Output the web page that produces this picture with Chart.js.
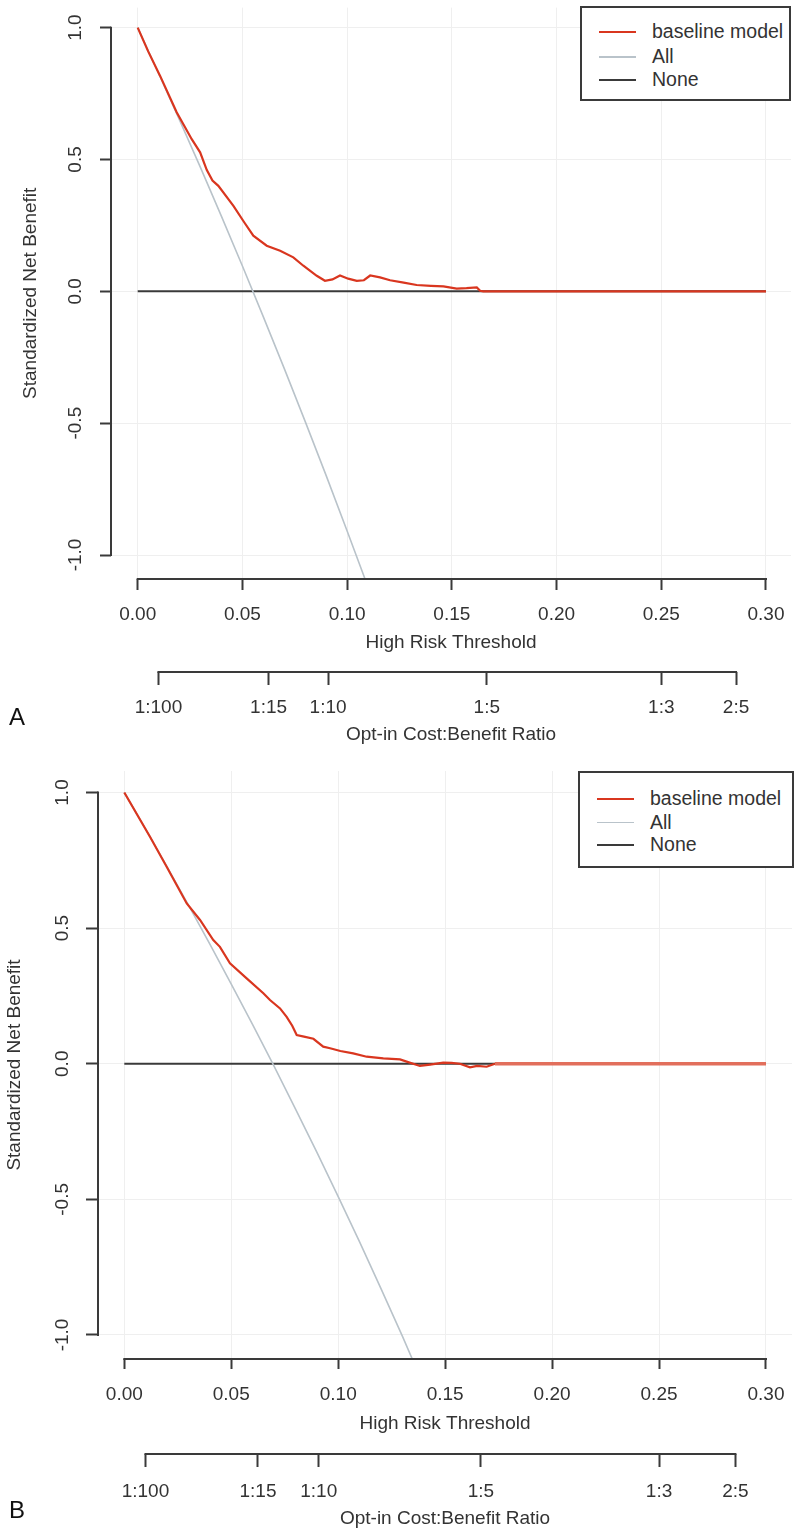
<!DOCTYPE html>
<html><head><meta charset="utf-8">
<script src="https://cdn.jsdelivr.net/npm/chart.js@4.4.1/dist/chart.umd.min.js"></script>
<style>
html,body{margin:0;padding:0;background:#fff;}
#wrap{position:relative;width:800px;height:1535px;overflow:hidden;background:#fff;}
canvas{position:absolute;left:0;}
.legend{position:absolute;border:2px solid #3a3a3a;box-sizing:border-box;background:#fff;color:#333;}
.legend .sw{position:absolute;height:2px;}
.legend .tx{position:absolute;white-space:nowrap;line-height:1;transform:translateY(-52%);}
.tag{position:absolute;font-family:"Liberation Sans",Arial,sans-serif;font-size:24px;line-height:1;color:#111;transform:translate(-50%,-50%);}
</style></head>
<body><div id="wrap">
<canvas id="cA" width="800" height="767" style="top:0px"></canvas>
<canvas id="cB" width="800" height="768" style="top:767px"></canvas>
<div class="tag" style="left:17px;top:717px">A</div>
<div class="tag" style="left:17px;top:1510px">B</div>
</div>
<script>
// ---------------- data ----------------
const seriesNames = ["baseline model", "All", "None"];

const aThreshold = [0, 0.005, 0.0107, 0.0186, 0.0258, 0.0298, 0.033, 0.0357, 0.0385, 0.0457, 0.051, 0.0552, 0.0616, 0.068, 0.0743, 0.0791, 0.0855, 0.0894, 0.093, 0.0966, 0.1005, 0.1046, 0.108, 0.111, 0.1157, 0.1205, 0.127, 0.1332, 0.14, 0.146, 0.1523, 0.157, 0.1619, 0.1635, 0.165, 0.3];
const aModel = [1.0, 0.91, 0.817, 0.679, 0.577, 0.527, 0.46, 0.42, 0.40, 0.324, 0.26, 0.211, 0.173, 0.154, 0.129, 0.097, 0.059, 0.040, 0.045, 0.060, 0.048, 0.040, 0.042, 0.060, 0.053, 0.042, 0.033, 0.024, 0.021, 0.019, 0.010, 0.012, 0.015, 0.002, 0, 0];
const aAllThreshold = [0, 0.01, 0.02, 0.03, 0.04, 0.05, 0.06, 0.07, 0.08, 0.09, 0.10, 0.1085];
const aAll = [1.0, 0.826, 0.649, 0.469, 0.284, 0.096, -0.097, -0.293, -0.494, -0.699, -0.909, -1.09];

const bThreshold = [0, 0.012, 0.0198, 0.0292, 0.0354, 0.0416, 0.0447, 0.0494, 0.0572, 0.065, 0.0681, 0.0728, 0.0759, 0.0785, 0.0806, 0.084, 0.0884, 0.093, 0.0962, 0.101, 0.107, 0.1133, 0.1211, 0.1289, 0.132, 0.1382, 0.143, 0.1491, 0.153, 0.1569, 0.1616, 0.165, 0.1694, 0.1733, 0.3];
const bModel = [1.0, 0.837, 0.726, 0.591, 0.530, 0.456, 0.431, 0.370, 0.315, 0.260, 0.235, 0.204, 0.173, 0.140, 0.106, 0.100, 0.092, 0.063, 0.057, 0.047, 0.038, 0.026, 0.020, 0.016, 0.008, -0.008, -0.003, 0.004, 0.003, 0.0, -0.013, -0.008, -0.011, 0.0, 0.0];
const bAllThreshold = [0, 0.01, 0.02, 0.03, 0.04, 0.05, 0.06, 0.07, 0.08, 0.09, 0.10, 0.11, 0.12, 0.13, 0.1347];
const bAll = [1.0, 0.865, 0.726, 0.585, 0.441, 0.294, 0.144, -0.009, -0.166, -0.326, -0.490, -0.657, -0.829, -1.004, -1.09];

const noneThreshold = [0, 0.3];
const noneBenefit = [0, 0];

const xTicks = [0, 0.05, 0.10, 0.15, 0.20, 0.25, 0.30];
const xTickLabels = ["0.00", "0.05", "0.10", "0.15", "0.20", "0.25", "0.30"];
const yTicks = [-1, -0.5, 0, 0.5, 1];
const yTickLabels = ["-1.0", "-0.5", "0.0", "0.5", "1.0"];
const cbTicks = [0.0099, 0.0625, 0.0909, 0.1667, 0.25, 0.2857];
const cbTickLabels = ["1:100", "1:15", "1:10", "1:5", "1:3", "2:5"];

// ---------------- styles ----------------
const seriesColors = ["#d9361f", "#b9c3ca", "#3a3a3a"];
const seriesWidths = [2.2, 1.6, 2];
const axisColor = "#3a3a3a";
const textColor = "#333333";
const gridColor = "#efefef";

function fontAvailable(name) {
  const c = document.createElement("canvas").getContext("2d");
  const s = "0.05 High Risk Threshold";
  c.font = "72px monospace"; const w0 = c.measureText(s).width;
  c.font = '72px "' + name + '", monospace'; const w1 = c.measureText(s).width;
  return Math.abs(w1 - w0) > 0.5;
}
const NARROW = fontAvailable("Liberation Sans Narrow");
const FAMILY = NARROW ? '"Liberation Sans Narrow", "Liberation Sans", sans-serif' : '"Liberation Sans", Arial, sans-serif';
const FS = NARROW ? 22 : 19;
const LFS = NARROW ? 23 : 19.5;
const LH = FS * 1.2;

function pts(xs, ys) { return xs.map((x, i) => ({ x: x, y: ys[i] })); }

const rAxes = {
  id: "rAxes",
  afterDraw(chart, args, o) {
    const ctx = chart.ctx, s = chart.scales, ca = chart.chartArea;
    ctx.save();
    ctx.strokeStyle = axisColor; ctx.lineWidth = 2; ctx.lineCap = "square";
    ctx.beginPath();
    ctx.moveTo(s.x.getPixelForValue(xTicks[0]), Math.round(s.x.top));
    ctx.lineTo(s.x.getPixelForValue(xTicks[xTicks.length - 1]), Math.round(s.x.top));
    ctx.moveTo(s.x2.getPixelForValue(cbTicks[0]), Math.round(s.x2.top));
    ctx.lineTo(s.x2.getPixelForValue(cbTicks[cbTicks.length - 1]), Math.round(s.x2.top));
    ctx.moveTo(Math.round(ca.left), s.y.getPixelForValue(yTicks[0]));
    ctx.lineTo(Math.round(ca.left), s.y.getPixelForValue(yTicks[yTicks.length - 1]));
    ctx.stroke();
    // rotated y tick labels (R style)
    ctx.fillStyle = textColor;
    ctx.font = FS + "px " + FAMILY;
    ctx.textAlign = "center"; ctx.textBaseline = "middle";
    s.y.ticks.forEach((t) => {
      const py = s.y.getPixelForValue(t.value);
      const lab = t.label != null ? t.label : yTickLabels[yTicks.indexOf(t.value)];
      ctx.save();
      ctx.translate(ca.left - o.labelOffset, py);
      ctx.rotate(-Math.PI / 2);
      ctx.fillText(lab, 0, 0);
      ctx.restore();
    });
    ctx.restore();
  }
};

function makePanel(cfg) {
  const datasets = [
    { label: seriesNames[0], data: pts(cfg.modelX, cfg.modelY) },
    { label: seriesNames[1], data: pts(cfg.allX, cfg.allY) },
    { label: seriesNames[2], data: pts(noneThreshold, noneBenefit) }
  ].map((d, i) => Object.assign(d, {
    borderColor: seriesColors[i], backgroundColor: seriesColors[i],
    borderWidth: seriesWidths[i], pointRadius: 0, tension: 0, fill: false
  }));
  if (cfg.thickTail) {
    const lastSeg = cfg.modelX.length - 2;
    datasets[0].segment = {
      borderWidth: (c) => (c.p0DataIndex === lastSeg ? 3.6 : undefined),
      borderColor: (c) => (c.p0DataIndex === lastSeg ? "#e26f5c" : undefined)
    };
  }
  const font = { family: FAMILY, size: FS, lineHeight: 1.2 };
  new Chart(document.getElementById(cfg.id), {
    type: "line",
    data: { datasets: datasets },
    plugins: [rAxes],
    options: {
      responsive: false, animation: false, devicePixelRatio: 1,
      layout: { padding: { left: 0, right: cfg.padRight, top: cfg.padTop, bottom: 0 } },
      plugins: { legend: { display: false }, tooltip: { enabled: false }, rAxes: { labelOffset: 35 } },
      scales: {
        x: {
          type: "linear", position: "bottom", weight: 0,
          min: cfg.xMin, max: cfg.xMax,
          afterBuildTicks: (sc) => { sc.ticks = xTicks.map((v) => ({ value: v })); },
          afterFit: (sc) => { sc.height = cfg.xH; },
          ticks: { callback: (v, i) => xTickLabels[i], autoSkip: false, maxRotation: 0, minRotation: 0,
                   color: textColor, font: font, padding: cfg.xLabPad },
          grid: { display: true, drawOnChartArea: true, color: gridColor, lineWidth: 1,
                  drawTicks: true, tickLength: cfg.xTL, tickColor: axisColor, tickWidth: 2 },
          border: { display: false },
          title: { display: true, text: "High Risk Threshold", color: textColor, font: font,
                   padding: { top: 0, bottom: cfg.xTitlePad } }
        },
        x2: {
          type: "linear", position: "bottom", weight: 1,
          min: cfg.xMin, max: cfg.xMax,
          afterBuildTicks: (sc) => { sc.ticks = cbTicks.map((v) => ({ value: v })); },
          afterFit: (sc) => { sc.height = cfg.x2H; },
          ticks: { callback: (v, i) => cbTickLabels[i], autoSkip: false, maxRotation: 0, minRotation: 0,
                   color: textColor, font: font, padding: cfg.x2LabPad },
          grid: { display: true, drawOnChartArea: false, drawTicks: true, tickLength: 13,
                  tickColor: axisColor, tickWidth: 2, color: axisColor },
          border: { display: false },
          title: { display: true, text: "Opt-in Cost:Benefit Ratio", color: textColor, font: font,
                   padding: { top: 0, bottom: cfg.x2TitlePad } }
        },
        y: {
          type: "linear", position: "left",
          min: cfg.yMin, max: cfg.yMax,
          afterBuildTicks: (sc) => { sc.ticks = yTicks.map((v) => ({ value: v })); },
          afterFit: (sc) => { sc.width = cfg.yW; },
          ticks: { display: false, callback: (v, i) => yTickLabels[i] },
          grid: { display: true, drawOnChartArea: true, color: gridColor, lineWidth: 1,
                  drawTicks: true, tickLength: cfg.yTL, tickColor: axisColor, tickWidth: 2 },
          border: { display: false },
          title: { display: true, text: "Standardized Net Benefit", color: textColor, font: font,
                   padding: { top: cfg.yTitlePad, bottom: 0 } }
        }
      }
    }
  });
  // legend (HTML, built from the datasets)
  const lg = document.createElement("div");
  lg.className = "legend";
  Object.assign(lg.style, { left: cfg.lgLeft + "px", top: cfg.lgTop + "px", width: cfg.lgW + "px", height: cfg.lgH + "px",
                            fontFamily: FAMILY, fontSize: LFS + "px" });
  datasets.forEach((d, i) => {
    const sw = document.createElement("div");
    sw.className = "sw";
    Object.assign(sw.style, { left: "17px", width: "37px", top: (cfg.lgRows[i] - 1) + "px", background: d.borderColor,
                              height: (i === 1 ? 1.6 : 2) + "px" });
    const tx = document.createElement("div");
    tx.className = "tx"; tx.textContent = d.label;
    Object.assign(tx.style, { left: "70px", top: cfg.lgRows[i] + "px" });
    lg.appendChild(sw); lg.appendChild(tx);
  });
  document.getElementById("wrap").appendChild(lg);
}

makePanel({
  id: "cA", modelX: aThreshold, modelY: aModel, allX: aAllThreshold, allY: aAll,
  xMin: -0.01275, xMax: 0.31194, yMin: -1.091, yMax: 1.076,
  padTop: 7.6, padRight: 9, yW: 111, xH: 93, x2H: 95,
  xTL: 11, yTL: 11, xLabPad: 36 - 11 - LH / 2, x2LabPad: 36 - 13 - LH / 2,
  xTitlePad: 29 - LH / 2, x2TitlePad: 32 - LH / 2, yTitlePad: 31 - LH / 2,
  lgLeft: 580, lgTop: 6, lgW: 211, lgH: 95, lgRows: [24, 49, 72], thickTail: false
});
makePanel({
  id: "cB", modelX: bThreshold, modelY: bModel, allX: bAllThreshold, allY: bAll,
  xMin: -0.0123, xMax: 0.31216, yMin: -1.0885, yMax: 1.0793,
  padTop: 4, padRight: 8, yW: 98, xH: 95, x2H: 81,
  xTL: 10, yTL: 12, xLabPad: 36 - 10 - LH / 2, x2LabPad: 38 - 13 - LH / 2,
  xTitlePad: 30 - LH / 2, x2TitlePad: 16 - LH / 2, yTitlePad: 15 - LH / 2,
  lgLeft: 578, lgTop: 771, lgW: 216, lgH: 97, lgRows: [25.5, 49.5, 72], thickTail: true
});
</script>
</body></html>
